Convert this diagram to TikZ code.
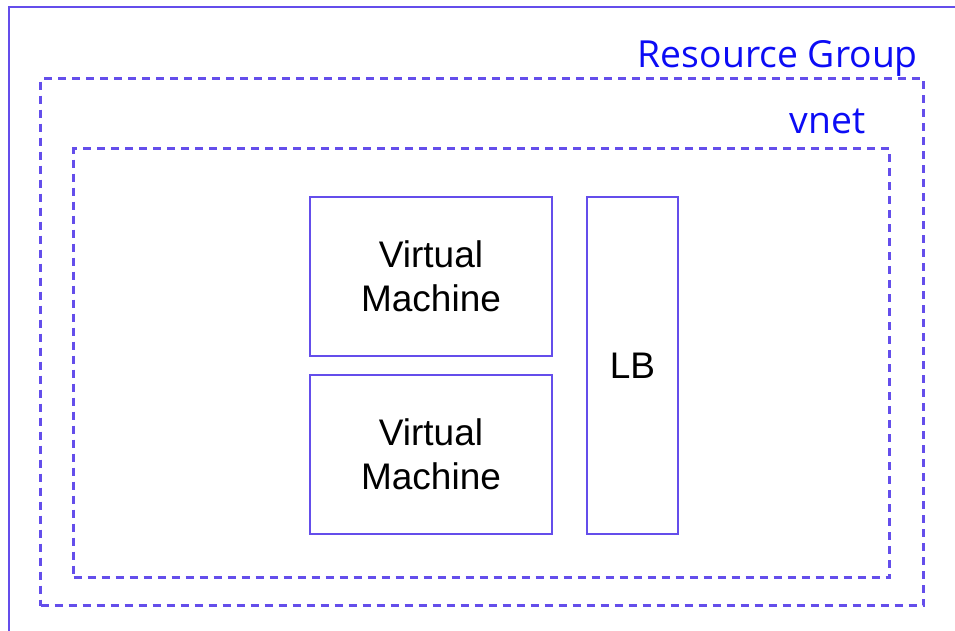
\documentclass[tikz,border=0pt]{standalone}
\usepackage{fontspec}
\setmainfont{Liberation Sans}
\newfontfamily\grouplabelfont{Open Sans}
\definecolor{edgeviolet}{RGB}{100,78,235}
\definecolor{labelblue}{RGB}{12,12,245}
\tikzset{
  solidframe/.style={draw=edgeviolet, line width=2pt, rectangle, anchor=north west,
    inner sep=0pt, outer sep=0pt},
  dashframe/.style={draw=edgeviolet, line width=2.2pt, dash pattern=on 8pt off 6pt,
    rectangle, anchor=north west, inner sep=0pt, outer sep=0pt},
  vmbox/.style={draw=edgeviolet, line width=2pt, rectangle, anchor=north west,
    inner sep=0pt, outer sep=0pt, align=center,
    font=\fontsize{37}{44.5}\selectfont, text=black},
  grouplabel/.style={anchor=base east, inner sep=0pt, text=labelblue,
    font=\grouplabelfont\fontsize{37.3}{40}\selectfont},
}
\begin{document}
\begin{tikzpicture}[x=1pt, y=-1pt]
  \useasboundingbox (0,0) rectangle (955,630);
  \clip (0,0) rectangle (955,630);
  % resource group frame (runs off the page on the right and bottom)
  \node[solidframe, minimum width=960pt, minimum height=640pt] (rg) at (8.5,6.7) {};
  \node[grouplabel] (rglabel) at (918,67.5) {Resource Group};
  % vnet frame
  \node[dashframe, minimum width=883pt, minimum height=527pt] (vnetouter) at (40.5,78.5) {};
  \node[grouplabel] (vnetlabel) at (865.5,133.5) {vnet};
  % subnet frame
  \node[dashframe, minimum width=816pt, minimum height=429pt] (subnet) at (73.5,148.5) {};
  % machines and load balancer
  \node[vmbox, minimum width=242pt, minimum height=159pt] (vm1) at (310,197) {Virtual\\Machine};
  \node[vmbox, minimum width=242pt, minimum height=159pt] (vm2) at (310,375) {Virtual\\Machine};
  \node[vmbox, minimum width=91pt, minimum height=337pt] (lb) at (587,197) {LB};
\end{tikzpicture}
\end{document}
